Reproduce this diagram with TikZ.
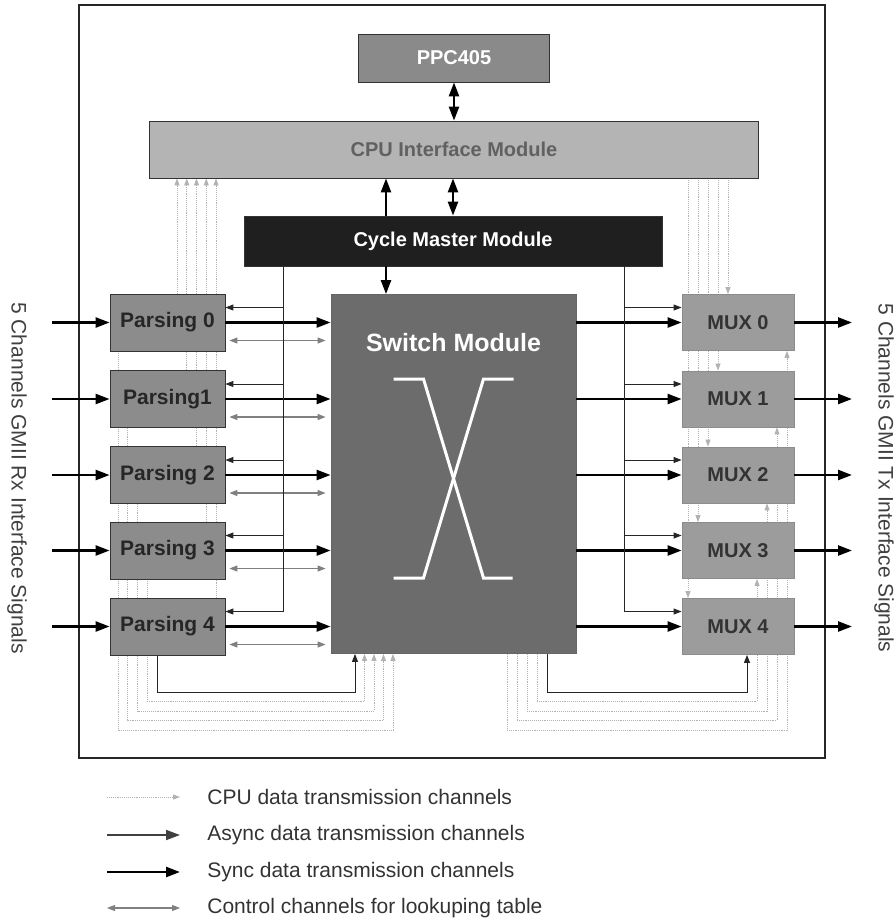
\documentclass[tikz,border=0pt]{standalone}
\usepackage{fontspec}
\setmainfont{Liberation Sans}
\usetikzlibrary{arrows.meta,backgrounds,positioning,calc}
\definecolor{ppcgray}{HTML}{8A8A8A}
\definecolor{cpugray}{HTML}{B4B4B4}
\definecolor{swgray}{HTML}{6C6C6C}
\definecolor{pargray}{HTML}{8C8C8C}
\definecolor{muxgray}{HTML}{9C9C9C}
\tikzset{every picture/.style={line width=0.75pt}}
\tikzset{
    bigtip/.tip={Triangle[length=14pt,width=10pt]},
    smalltip/.tip={Triangle[length=8pt,width=6pt]},
    tinytip/.tip={Triangle[length=7pt,width=5pt]},
    modbox/.style={draw=black!80, line width=0.8pt, inner sep=0pt,
        font=\fontsize{20}{24}\selectfont\bfseries},
    parbox/.style={modbox, fill=pargray, text=black!85,
        minimum width=115pt, minimum height=57pt,
        font=\fontsize{21}{24}\selectfont\bfseries},
    muxbox/.style={modbox, draw=black!45, fill=muxgray, text=black!80,
        minimum width=112pt, minimum height=56pt},
    sync/.style={line width=2.4pt, black, -bigtip},
    async/.style={line width=1.8pt, black!75, -bigtip},
    clk/.style={line width=1pt, black!85, -smalltip},
    cpud/.style={line width=0.9pt, gray!60, densely dotted, -tinytip},
    ctrl/.style={line width=1.1pt, gray, smalltip-smalltip},
    legtext/.style={anchor=west, inner sep=0pt, text=black!80,
        font=\fontsize{21}{24}\selectfont},
    sidetext/.style={rotate=-90, text=black!75,
        font=\fontsize{21}{24}\selectfont},
}

\begin{document}
\begin{tikzpicture}[x=1pt, y=-1pt]
    \useasboundingbox (0,0) rectangle (896,922);
    % chip frame
    \draw[line width=2pt, black!85] (79,5) rectangle (825,758);

    % main modules
    \node[modbox, fill=ppcgray, text=white, minimum width=191pt, minimum height=48pt] (ppc) at (454,58) {PPC405};
    \node[modbox, fill=cpugray, text=black!62, minimum width=609pt, minimum height=57pt] (cpu) at (454,149.5) {CPU Interface Module};
    \node[modbox, fill=black!88, text=white, minimum width=418pt, minimum height=50pt] (cyc) at (453,241) {Cycle Master Module};
    \node[modbox, draw=black!60, fill=swgray, minimum width=245pt, minimum height=359pt] (sw) at (453.5,474) {};
    \node[text=white, font=\fontsize{25}{28}\selectfont\bfseries] (swt) at ($(sw.north)+(0,48)$) {Switch Module};
    \begin{scope}[shift={(sw.center)}, white, line width=3pt]
        \draw (-60,-95) -- (-30,-95) -- (30,104) -- (59,104);
        \draw (60,-95) -- (30,-95) -- (-30,104) -- (-60,104);
    \end{scope}

    % parsing and mux rows
    \foreach \i/\yc/\txt in {0/322.5/Parsing 0,1/399/Parsing1,2/475/Parsing 2,3/550.5/Parsing 3,4/626.5/Parsing 4} {
        \node[parbox] (par\i) at (167.5,\yc) {\txt};
        \node[muxbox] (mux\i) at (738,\yc) {MUX \i};
        \coordinate (in\i) at (52,\yc);
        \coordinate (out\i) at (852,\yc);
    }
    \coordinate (tap) at (386,0);
    \coordinate (lbus) at (283,0);
    \coordinate (rbus) at (624,0);

    % cpu side
    \draw[sync, bigtip-bigtip] (ppc) -- (cpu);
    \draw[sync, bigtip-bigtip] (cyc.north) -- (cpu.south -| cyc.north);
    \draw[sync] (cyc.north -| tap) -- (cpu.south -| tap);
    \draw[sync] (cyc.south -| tap) -- (sw.north -| tap);

    \foreach \i in {0,...,4} {
        \draw[sync] (in\i) -- (par\i);
        \draw[sync] (par\i) -- (par\i -| sw.west);
        \draw[ctrl] ($(par\i.east)+(4,18)$) -- ($(par\i.east -| sw.west)+(-5,18)$);
        \draw[clk] (cyc.south -| lbus) |- ($(par\i.east)+(0,-15)$);
        \draw[sync] (sw.east |- mux\i) -- (mux\i);
        \draw[clk] (cyc.south -| rbus) |- ($(mux\i.west)+(0,-15)$);
        \draw[sync] (mux\i) -- (out\i);
    }

    \begin{scope}[on background layer]
        % cpu data paths
        \foreach \i [evaluate=\i as \px using {177+9.75*\i},
                     evaluate=\i as \cx using {728-10*\i}] in {0,...,4} {
            \draw[cpud] (par\i.north -| \px,0) -- (cpu.south -| \px,0);
            \draw[cpud] (cpu.south -| \cx,0) -- (mux\i.north -| \cx,0);
        }
        % loops under the switch
        \foreach \i/\sty [evaluate=\i as \lx using {118+9.75*\i},
                          evaluate=\i as \ly using {730-9.5*\i},
                          evaluate=\i as \sx using {393-9.5*\i},
                          evaluate=\i as \rx using {507+10*\i},
                          evaluate=\i as \mx using {787-10*\i}] in {0/cpud,1/cpud,2/cpud,3/cpud,4/clk} {
            \draw[\sty] (par\i.south -| \lx,0) |- (\sx,\ly) -- (sw.south -| \sx,0);
            \draw[\sty] (sw.south -| \rx,0) |- (\mx,\ly) -- (mux\i.south -| \mx,0);
        }
    \end{scope}

    % side labels
    \node[sidetext] (rxlbl) at (17,478) {5 Channels GMII Rx Interface Signals};
    \node[sidetext] (txlbl) at (884,478) {5 Channels GMII Tx Interface Signals};

    % legend
    \foreach \k/\ly/\sty/\txt in {1/797/cpud/CPU data transmission channels,
                                  2/835/async/Async data transmission channels,
                                  3/872/sync/Sync data transmission channels,
                                  4/908/ctrl/Control channels for lookuping table} {
        \node[legtext] (leg\k) at (207,\ly) {\txt};
        \draw[\sty] ($(leg\k.west)+(-100,0)$) -- ($(leg\k.west)+(-27,0)$);
    }
\end{tikzpicture}
\end{document}
